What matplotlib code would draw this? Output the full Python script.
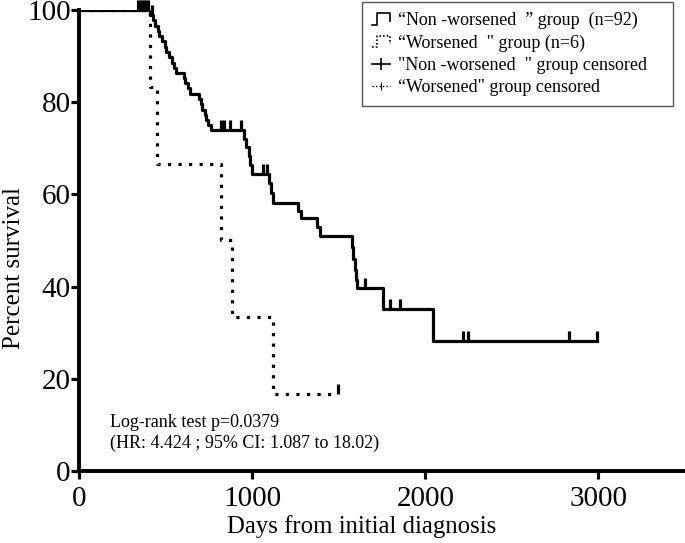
import matplotlib
matplotlib.use("Agg")
import matplotlib.pyplot as plt
from matplotlib.lines import Line2D
from matplotlib.legend_handler import HandlerBase
import numpy as np

plt.rcParams['font.family'] = ['Liberation Serif', 'DejaVu Serif']

# Kaplan-Meier steps (days, percent survival)
nw_times = [0, 410, 425, 440, 455, 465, 480, 495, 505, 520, 535, 548, 560, 605, 615,
            630, 640, 695, 705, 712, 725, 735, 748, 763, 955, 965, 980, 990, 1000,
            1100, 1110, 1118, 1265, 1285, 1375, 1390, 1575, 1585, 1592, 1598, 1605,
            1755, 2045, 2990]
nw_surv = [100, 98.9, 97.8, 96.6, 95.5, 94.3, 93.2, 92.0, 90.9, 89.8, 88.6, 87.5, 86.4,
           85.2, 84.1, 83.0, 81.8, 80.7, 79.5, 78.4, 77.3, 76.1, 75.0, 73.9, 72.0, 70.2,
           68.3, 66.4, 64.5, 62.4, 60.2, 58.1, 56.5, 54.9, 53.0, 51.0, 48.5, 46.0, 43.5,
           41.5, 39.6, 35.2, 28.2, 28.2]
nw_censored = [340, 352, 364, 376, 388, 400, 420, 820, 835, 870, 935, 1060, 1085, 1650,
               1795, 1853, 2215, 2245, 2832, 2990]

w_times = [0, 409, 453, 822, 884, 1118, 1494]
w_surv = [100, 83.3, 66.7, 50.0, 33.3, 16.7, 16.7]
w_censored = [1494]

legend_labels = ['\u201cNon -worsened  \u201d group  (n=92)',
                 '\u201cWorsened  " group (n=6)',
                 '"Non -worsened  " group censored',
                 '\u201cWorsened" group censored']

dot_style = (0, (1, 2.3))


def surv_at(times, surv, t):
    idx = np.searchsorted(times, t, side='right') - 1
    return np.array(surv)[idx]


class StepHandler(HandlerBase):
    def __init__(self, ls, **kw):
        HandlerBase.__init__(self, **kw)
        self.ls = ls

    def create_artists(self, legend, orig_handle, xdescent, ydescent, width, height,
                       fontsize, trans):
        x0 = -xdescent
        y0 = -ydescent
        xs = [x0, x0 + 0.3 * width, x0 + 0.3 * width, x0 + width, x0 + width]
        ys = [y0 + 0.05 * height, y0 + 0.05 * height, y0 + 0.95 * height,
              y0 + 0.95 * height, y0 + 0.3 * height]
        ln = Line2D(xs, ys, color='black', lw=1.2, linestyle=self.ls, transform=trans)
        return [ln]


fig = plt.figure(figsize=(6.85, 5.43), dpi=100)
ax = fig.add_axes([0.1153, 0.1326, 0.8847, 0.849])

ax.step(nw_times, nw_surv, where='post', color='black', lw=2.3)
ax.step(w_times, w_surv, where='post', color='black', lw=2.3, linestyle=dot_style,
        dash_capstyle='butt')

ax.plot(nw_censored, surv_at(nw_times, nw_surv, nw_censored), linestyle='none',
        marker=2, markersize=7, markeredgewidth=2.3, color='black', clip_on=False)
ax.plot(w_censored, surv_at(w_times, w_surv, w_censored), linestyle='none',
        marker=2, markersize=7, markeredgewidth=2.3, color='black', clip_on=False)

ax.set_xlim(0, 3500)
ax.set_ylim(0, 100)
ax.set_xticks([0, 1000, 2000, 3000])
ax.set_yticks([0, 20, 40, 60, 80, 100])
ax.tick_params(labelsize=21, width=2.3, length=6, direction='out')
ax.tick_params(axis='x', pad=5)
ax.tick_params(axis='y', pad=0)
for s in ['top', 'right']:
    ax.spines[s].set_visible(False)
for s in ['left', 'bottom']:
    ax.spines[s].set_linewidth(2.8)

ax.set_xlabel('Days from initial diagnosis', fontsize=17.8)
ax.set_ylabel('Percent survival', fontsize=18)
ax.xaxis.set_label_coords(0.467, -0.096)
ax.yaxis.set_label_coords(-0.089, 0.44)

ax.text(179, 10.6, 'Log-rank test p=0.0379', fontsize=13, va='center')
ax.text(179, 6.0, '(HR: 4.424 ; 95% CI: 1.087 to 18.02)', fontsize=13, va='center')

h1 = Line2D([], [], color='black')
h2 = Line2D([], [], color='black', linestyle=':')
h3 = Line2D([], [], color='black', lw=1.2, marker='|', markersize=8, markeredgewidth=1.2)
h4 = Line2D([], [], color='black', lw=1.0, linestyle=(0, (1, 1.5)), marker='|',
            markersize=6, markeredgewidth=0.8)
leg = fig.legend([h1, h2, h3, h4], legend_labels, loc='upper left',
                 bbox_to_anchor=(362 / 685, 1 - 106 / 543, 311 / 685, 104 / 543),
                 mode='expand', borderaxespad=0, fontsize=13,
                 fancybox=False, framealpha=1, edgecolor='#555555',
                 handlelength=1.0, handletextpad=0.45, borderpad=0.55,
                 labelspacing=0.29,
                 handler_map={h1: StepHandler('-'), h2: StepHandler((0, (1, 1.2)))})
leg.get_frame().set_linewidth(1.0)

fig.savefig('out.png', dpi=100)
